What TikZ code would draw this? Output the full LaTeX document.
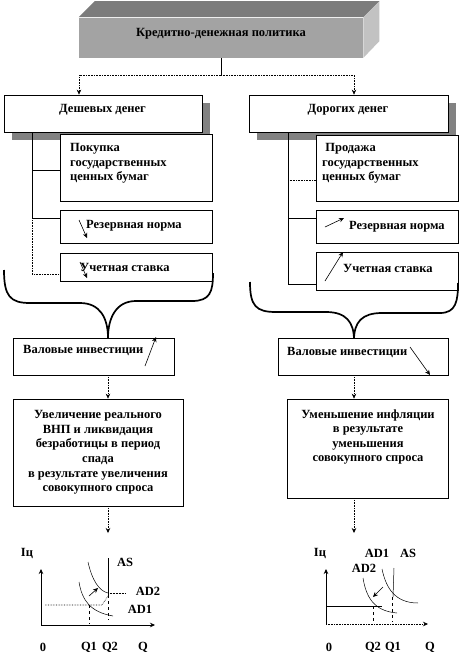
\documentclass[tikz,border=0pt]{standalone}
\usepackage{fontspec}
\setmainfont{Liberation Serif}
\usetikzlibrary{positioning, arrows.meta, calc, shadows}
\definecolor{facegray}{HTML}{A3A3A3}
\definecolor{topgray}{HTML}{7C7C7C}
\definecolor{sidegray}{HTML}{C2C2C2}
\definecolor{shadowgray}{HTML}{828282}

\begin{document}
\begin{tikzpicture}[
  x=1pt, y=-1pt,
  font=\fontsize{12.5}{14.6}\selectfont\bfseries,
  frame/.style={draw, line width=0.7pt, inner sep=0pt, fill=white},
  head/.style={frame, drop shadow={shadow xshift=8pt, shadow yshift=-8pt, fill=shadowgray, opacity=1}},
  txt/.style={inner sep=0pt, align=left, anchor=west},
  arr/.style={-{Stealth[length=5pt, width=4.5pt]}, line width=0.6pt},
  flow/.style={arr, densely dotted},
  brace/.style={line width=1.7pt, line join=round},
]
  \useasboundingbox (0,0) rectangle (469,665);

  % policy block (3D)
  \node[frame, fill=facegray, draw=none, minimum width=284pt, minimum height=40pt] (policy) at (221,37.5) {};
  \fill[topgray] (policy.north west) -- ++(16,-16) -- ([xshift=16pt, yshift=16pt]policy.north east) -- (policy.north east) -- cycle;
  \fill[sidegray] (policy.north east) -- ++(16,-16) -- ++(0,40) -- (policy.south east) -- cycle;
  \node (policyText) at (221,34) {Кредитно-денежная  политика};

  % two branches
  \node[head, minimum width=198pt, minimum height=37pt] (cheap) at (103,113.5) {};
  \node (cheapText) at (102.5,110) {Дешевых  денег};
  \node[head, minimum width=199pt, minimum height=37pt] (dear) at (348.5,113.5) {};
  \node (dearText) at (348,110) {Дорогих  денег};

  \coordinate (split) at (221,75);
  \draw[line width=0.6pt] (policy.south) -- (split);
  \draw[flow] (split) -| ([xshift=-24pt]cheap.north);
  \draw[flow] (split) -| ([xshift=5.5pt]dear.north);

  % left instruments
  \node[frame, minimum width=152pt, minimum height=67pt] (buyL) at (136,167.5) {};
  \node[txt] (buyText) at (70,163.5) {Покупка\\государственных\\ценных бумаг};
  \node[frame, minimum width=152pt, minimum height=33pt] (resL) at (136,226.5) {};
  \node[txt] (resLText) at (86,226) {Резервная норма};
  \node[frame, minimum width=152pt, minimum height=28pt] (rateL) at (136,267) {};
  \node[txt] (rateLText) at (80,267) {Учетная ставка};
  \draw[arr] (79,220) -- (87,238);
  \draw[arr] (80,262) -- (87,278);

  \coordinate (treeL) at (32,132);
  \draw[densely dotted, line width=0.6pt] (treeL) |- ([yshift=-7pt]rateL.west);
  \draw[line width=0.6pt] (treeL) |- ([yshift=-2.5pt]buyL.west);
  \draw[line width=0.6pt] (treeL) |- ([yshift=8.5pt]resL.west);

  % right instruments
  \node[frame, minimum width=142pt, minimum height=66pt] (sellR) at (387,168) {};
  \node[txt] (sellText) at (322,163.5) {\ Продажа\\государственных\\ценных бумаг};
  \node[frame, minimum width=142pt, minimum height=33pt] (resR) at (387,226.5) {};
  \node[txt] (resRText) at (349,227) {Резервная норма};
  \node[frame, minimum width=142pt, minimum height=38pt] (rateR) at (387,271) {};
  \node[txt] (rateRText) at (343,268) {Учетная ставка};
  \draw[arr] (325,227) -- (344,218);
  \draw[arr] (325,281) -- (343,252);

  \coordinate (treeR) at (288,132);
  \draw[line width=0.6pt] (treeR) |- ([yshift=-13pt]rateR.west);
  \draw[densely dotted, line width=0.6pt] (treeR) |- ([yshift=-12pt]sellR.west);
  \draw[line width=0.6pt] (treeR) |- ([yshift=8.5pt]resR.west);

  % braces
  \draw[brace] (4,270) .. controls (4,296) and (10,303) .. (30,303) -- (80,303)
    .. controls (100,303) and (108,318) .. (108,338)
    .. controls (108,318) and (116,301) .. (136,301) -- (192,301)
    .. controls (210,301) and (213,292) .. (213,273);
  \draw[brace] (250,282) .. controls (250,306) and (256,312) .. (276,312) -- (326,312)
    .. controls (346,312) and (354,322) .. (354,340)
    .. controls (354,322) and (362,313) .. (382,313) -- (440,313)
    .. controls (456,313) and (458,301) .. (458,283);

  % investment
  \node[frame, minimum width=161pt, minimum height=37pt] (investL) at (93.5,356.5) {};
  \node[txt] (investLText) at (23,350) {Валовые  инвестиции};
  \draw[arr] (145,366) -- (156,337);
  \node[frame, minimum width=170pt, minimum height=37pt] (investR) at (363,356.5) {};
  \node[txt] (investRText) at (287,352) {Валовые  инвестиции};
  \draw[arr] (410,347) -- (430,375);

  % results
  \node[frame, minimum width=170pt, minimum height=107pt, align=center] (growL) at (98,452.5)
    {Увеличение реального\\ВНП и ликвидация\\безработицы в период\\спада\\в результате  увеличения\\совокупного спроса};
  \node[frame, minimum width=161pt, minimum height=99pt] (fallR) at (367.5,448.5) {};
  \node[align=center, inner sep=0pt] (fallText) at (368,437)
    {Уменьшение инфляции\\в результате\\уменьшения\\совокупного спроса};

  \draw[flow] ([xshift=14.5pt]investL.south) -- ([xshift=14.5pt]investL.south |- growL.north);
  \draw[flow] ([xshift=-9pt]investR.south) -- ([xshift=-9pt]investR.south |- fallR.north);

  \coordinate (graphL) at (108,533);
  \coordinate (graphR) at (354,533);
  \draw[flow] ([xshift=10pt]growL.south) -- (graphL);
  \draw[flow] ([xshift=-13.5pt]fallR.south) -- (graphR);

  % left graph
  \coordinate (oL) at (41,625);
  \draw[arr] (oL) -- ++(0,-56);
  \draw[arr] (oL) -- ++(114,0);
  \draw[line width=0.5pt] (108,558) -- (108,595);
  \draw[dashed, line width=0.5pt] (108,595) -- (108,620);
  \draw[line width=0.5pt] (88,562) .. controls (92,580) and (99,591) .. (108,593);
  \draw[densely dotted, line width=0.5pt] (108,593) -- (125,593);
  \draw[line width=0.5pt] (79,582) .. controls (82,600) and (90,612) .. (113,616);
  \draw[densely dotted, line width=0.6pt] (45,605) -- (102,605) -- (108,596);
  \draw[dashed, line width=0.5pt] (89,605) -- (89,624);
  \draw[arr] (89,596) -- (98,588);
  \node (pL) at (27,553) {Іц};
  \node (asL) at (125,562) {AS};
  \node (ad2L) at (148,591) {AD2};
  \node (ad1L) at (140,609) {AD1};
  \node (zeroL) at (43,647) {0};
  \node (q1L) at (89,647) {Q1};
  \node (q2L) at (110,647) {Q2};
  \node (qL) at (143,647) {Q};

  % right graph
  \coordinate (oR) at (326,624);
  \draw[arr] (oR) -- ++(0,-55);
  \draw[arr, densely dotted] (oR) -- ++(102,0);
  \draw[line width=0.6pt] (326,606) -- (382,606);
  \draw[line width=0.5pt] (363,578) .. controls (366,596) and (373,611) .. (397,613);
  \draw[line width=0.5pt] (382,569) .. controls (386,588) and (395,603) .. (418,603);
  \draw[line width=0.5pt] (394,568) -- (393,597);
  \draw[dashed, line width=0.5pt] (392,597) -- (392,622);
  \draw[dashed, line width=0.5pt] (373,606) -- (373,622);
  \draw[arr] (383,587) -- (373,597);
  \node (pR) at (320,553) {Іц};
  \node (ad1R) at (377,553) {AD1};
  \node (asR) at (408,553) {AS};
  \node (ad2R) at (364,568) {AD2};
  \node (zeroR) at (329,647) {0};
  \node (q2R) at (373,647) {Q2};
  \node (q1R) at (393,647) {Q1};
  \node (qR) at (430,647) {Q};
\end{tikzpicture}
\end{document}
